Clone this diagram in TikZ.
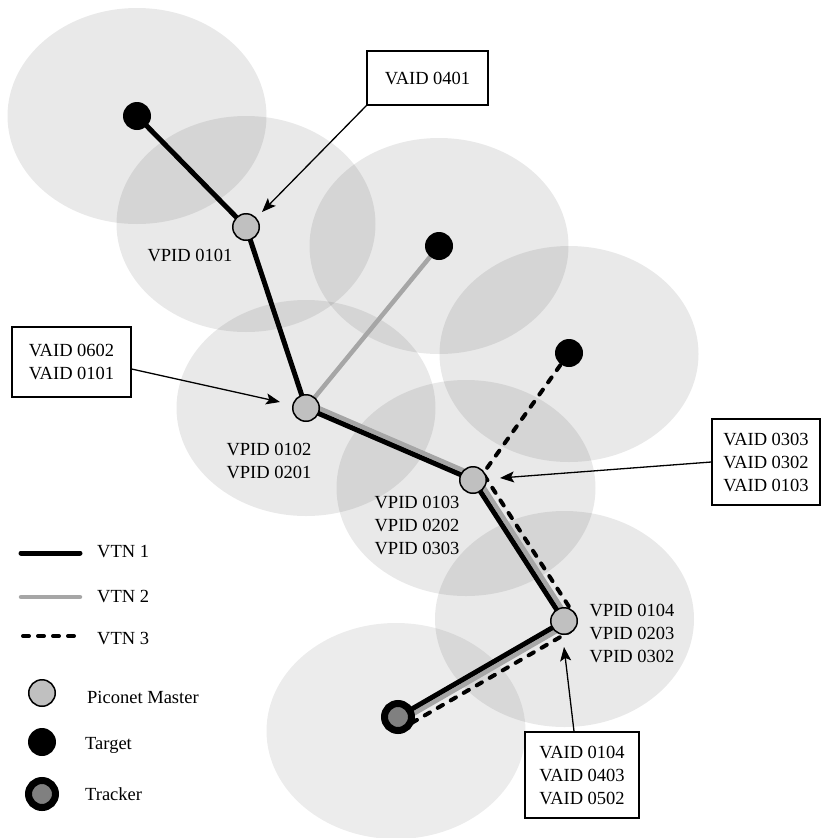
\documentclass[tikz,border=0pt]{standalone}
\usepackage{fontspec}
\setmainfont{Liberation Serif}
\usetikzlibrary{calc,arrows.meta}
\pgfdeclarelayer{ell}
\pgfdeclarelayer{lines}
\pgfsetlayers{ell,lines,main}
\definecolor{vtngray}{HTML}{A6A6A6}
\definecolor{masterfill}{HTML}{C0C0C0}
\definecolor{trackfill}{HTML}{808080}
\begin{document}
\begin{tikzpicture}[x=1pt,y=-1pt, font=\fontsize{18.5}{23}\selectfont,
  cell/.style={fill=black, fill opacity=0.088},
  mastern/.style={circle, draw, line width=1.5pt, fill=masterfill, minimum size=26.5pt, inner sep=0pt},
  targetn/.style={circle, fill=black, minimum size=28pt, inner sep=0pt},
  trackern/.style={circle, draw=black, line width=7pt, fill=trackfill, minimum size=27pt, inner sep=0pt},
  vtna/.style={line width=5pt, line join=round},
  vtnb/.style={line width=4.5pt, draw=vtngray, line join=round},
  vtnc/.style={line width=4pt, dash pattern=on 6pt off 9pt, line cap=round},
  idbox/.style={draw, line width=1.3pt, align=center, inner sep=0pt},
  lbl/.style={align=center, inner sep=0pt},
  callout/.style={line width=1.3pt, -{Stealth[length=14pt,width=11pt,inset=3pt]}}
]
\useasboundingbox (0,0) rectangle (822,838);

% piconet coverage areas
\begin{pgfonlayer}{ell}
\foreach \cx/\cy in {137/116,246/224,439/246,306/408,569/354,466/488,564.5/619}
  \fill[cell] (\cx,\cy) ellipse [x radius=129.5, y radius=108];
\fill[cell, fill opacity=0.075] (396,731) ellipse [x radius=129.5, y radius=108];
\end{pgfonlayer}

% nodes
\node[targetn] (t1) at (137,116) {};
\node[mastern] (m1) at (246,227) {};
\node[targetn] (t2) at (439,246) {};
\node[mastern] (m2) at (306,408) {};
\node[targetn] (t3) at (569,353) {};
\node[mastern] (m3) at (473,480) {};
\node[mastern] (m4) at (564,621) {};
\node[trackern] (tr) at (398,717) {};

% offset points for parallel routes
\coordinate (g1) at ($(m2.center)!5pt!90:(m3.center)$);
\coordinate (g2) at ($(m3.center)!5pt!-90:(m2.center)$);
\coordinate (g3) at ($(m3.center)!5pt!90:(m4.center)$);
\coordinate (g4) at ($(m4.center)!5pt!-90:(m3.center)$);
\coordinate (g5) at ($(m4.center)!5pt!90:(tr.center)$);
\coordinate (g6) at ($(tr.center)!5pt!-90:(m4.center)$);
\coordinate (d1) at ($(m3.center)!12pt!90:(m4.center)$);
\coordinate (d2) at ($(m4.center)!12pt!-90:(m3.center)$);
\coordinate (d3) at ($(m4.center)!12pt!90:(tr.center)$);
\coordinate (d4) at ($(tr.center)!12pt!-90:(m4.center)$);

\begin{pgfonlayer}{lines}
\draw[vtnb] (t2.center) -- (m2.center) -- (g1) -- (g2) -- (g3) -- (g4) -- (g5) -- (g6);
\draw[vtnc] (t3.center) -- (d1) -- (d2) -- (d3) -- (d4);
\draw[vtna] (t1.center) -- (m1.center) -- (m2.center) -- (m3.center) -- (m4.center) -- (tr.center);
\end{pgfonlayer}

% VPID labels
\node[lbl] (p1) at (190,255) {VPID 0101};
\node[lbl] (p2) at (269,461) {VPID 0102\\VPID 0201};
\node[lbl] (p3) at (417,525) {VPID 0103\\VPID 0202\\VPID 0303};
\node[lbl] (p4) at (632,633) {VPID 0104\\VPID 0203\\VPID 0302};

% VAID boxes
\node[idbox, minimum width=121pt, minimum height=54pt] (a1) at (427.5,78) {VAID 0401};
\node[idbox, minimum width=119pt, minimum height=70pt] (a2) at (71.5,362) {VAID 0602\\VAID 0101};
\node[idbox, minimum width=108pt, minimum height=86pt] (a3) at (766,462) {VAID 0303\\VAID 0302\\VAID 0103};
\node[idbox, minimum width=114pt, minimum height=86pt] (a4) at (582,775) {VAID 0104\\VAID 0403\\VAID 0502};

\coordinate (c1) at (262,212);
\coordinate (c2) at (280,402);
\coordinate (c3) at (500,478);
\coordinate (c4) at (564,647);
\draw[callout] (a1.south west) -- (c1);
\draw[callout] ($(a2.east)+(0,7)$) -- (c2);
\draw[callout] (a3.west) -- (c3);
\draw[callout] ($(a4.north)+(-8,0)$) -- (c4);

% legend
\coordinate (l1a) at (21,553); \coordinate (l1b) at (80,553);
\coordinate (l2a) at (21,597); \coordinate (l2b) at (80,597);
\coordinate (l3a) at (23,636); \coordinate (l3b) at (78,636);
\draw[vtna, line cap=round] (l1a) -- (l1b);
\draw[vtnb, line cap=round] (l2a) -- (l2b);
\draw[vtnc] (l3a) -- (l3b);
\node[lbl, anchor=west] (k1) at (97,552) {VTN 1};
\node[lbl, anchor=west] (k2) at (97,597) {VTN 2};
\node[lbl, anchor=west] (k3) at (97,639) {VTN 3};
\node[mastern] (lm) at (42,693) {};
\node[targetn] (lt) at (42,742) {};
\node[trackern] (ltr) at (42,794) {};
\node[lbl, anchor=west] (k4) at (87,697) {Piconet Master};
\node[lbl, anchor=west] (k5) at (85,745) {Target};
\node[lbl, anchor=west] (k6) at (85,794) {Tracker};
\end{tikzpicture}
\end{document}
